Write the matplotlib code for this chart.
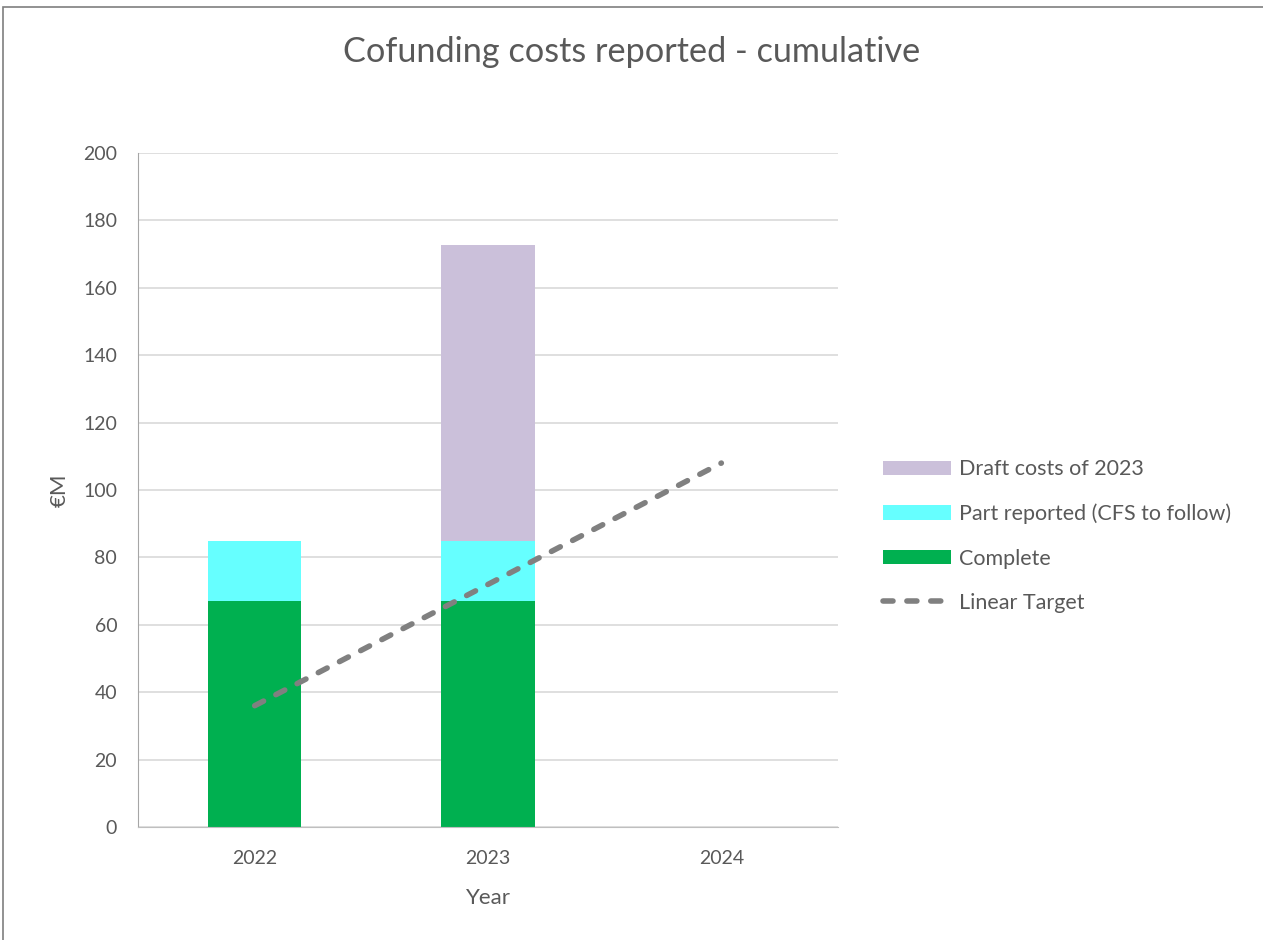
import matplotlib
matplotlib.use("Agg")
import matplotlib.pyplot as plt
from matplotlib.patches import Rectangle
import numpy as np

years = ["2022", "2023", "2024"]
complete = [67, 67, 0]
part_reported = [18, 18, 0]
draft_costs = [0, 87.7, 0]
linear_target = [36, 72, 108]

plt.rcParams['font.family'] = ['Lato', 'DejaVu Sans']
txt = "#595959"

fig = plt.figure(figsize=(12.63, 9.40), dpi=100)
ax = fig.add_axes([0.1093, 0.1202, 0.5542, 0.717])

x = np.arange(len(years))
w = 0.4
b1 = ax.bar(x, complete, w, color="#00B050", label="Complete", zorder=2)
b2 = ax.bar(x, part_reported, w, bottom=complete, color="#66FFFF",
            label="Part reported (CFS to follow)", zorder=2)
bottom2 = [c + p for c, p in zip(complete, part_reported)]
b3 = ax.bar(x, draft_costs, w, bottom=bottom2, color="#CBC0DA",
            label="Draft costs of 2023", zorder=2)
ln, = ax.plot(x, linear_target, color="#808080", lw=4.0, ls=(0, (1.8, 2.5)),
              dash_capstyle="round", label="Linear Target", zorder=3)

ax.set_xlim(-0.5, 2.5)
ax.set_ylim(0, 200)
ax.set_yticks(range(0, 201, 20))
ax.set_xticks(x)
ax.set_xticklabels(years)
ax.grid(axis="y", color="#D9D9D9", lw=1.2, zorder=0)
ax.set_axisbelow(True)
for s in ["top", "right"]:
    ax.spines[s].set_visible(False)
ax.spines["left"].set_color("#A6A6A6")
ax.spines["bottom"].set_color("#BFBFBF")
ax.tick_params(axis="both", length=0, labelsize=14, colors=txt)
ax.tick_params(axis="x", pad=16.5)
ax.tick_params(axis="y", pad=15)
ax.set_xlabel("Year", fontsize=16, color=txt, labelpad=15.5)
ax.set_ylabel("€M", fontsize=16, color=txt, labelpad=10)

fig.text(0.5, 0.945, "Cofunding costs reported - cumulative", ha="center",
         va="center", fontsize=24.7, color=txt)

leg = fig.legend(handles=[b3, b2, b1, ln],
                 labels=["Draft costs of 2023", "Part reported (CFS to follow)",
                         "Complete", "Linear Target"],
                 loc="upper left", bbox_to_anchor=(0.6841, 0.532),
                 frameon=False, fontsize=15.5, labelcolor=txt,
                 handlelength=3.15, handleheight=0.65, handletextpad=0.37,
                 labelspacing=1.13)

# outer chart border (partially visible)
fig.add_artist(Rectangle((0.0025, -0.01), 1.2, 1.0025,
                         transform=fig.transFigure, fill=False,
                         edgecolor="#7F7F7F", lw=1.2))

fig.savefig("out.png", dpi=100)
